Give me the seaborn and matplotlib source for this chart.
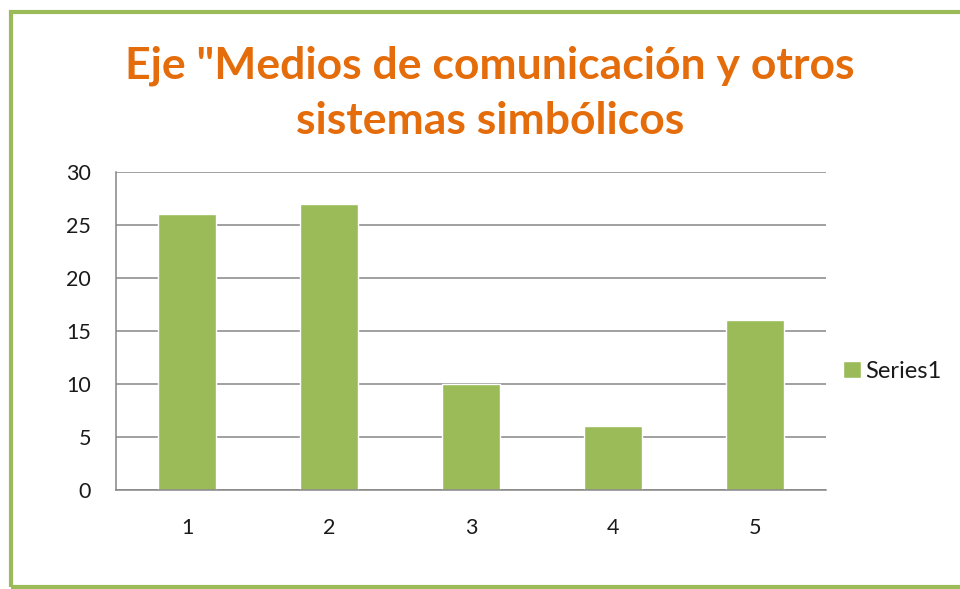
import matplotlib
matplotlib.use("Agg")
import matplotlib.pyplot as plt
import seaborn as sns
import pandas as pd
from matplotlib.patches import Rectangle

# data
categorias = ["1", "2", "3", "4", "5"]
valores = [26, 27, 10, 6, 16]
serie = "Series1"
titulo = 'Eje "Medios de comunicación y otros\nsistemas simbólicos'

df = pd.DataFrame({"cat": categorias, "val": valores})

sns.set_style("white")
plt.rcParams["font.family"] = ["Lato", "DejaVu Sans"]

verde = "#9BBB59"
naranja = "#E46C0A"
gris = "#868686"

fig = plt.figure(figsize=(9.6, 5.89), dpi=100)
ax = fig.add_axes([116 / 960, 1 - 490 / 589, 710 / 960, 318 / 589])

sns.barplot(data=df, x="cat", y="val", color=verde, width=0.41,
            saturation=1, label=serie, ax=ax)

ax.set_ylim(0, 30)
ax.set_yticks(range(0, 31, 5))
ax.set_xlim(-0.5, len(categorias) - 0.5)
ax.set_xlabel("")
ax.set_ylabel("")
ax.yaxis.grid(True, color=gris, linewidth=1.1)
ax.set_axisbelow(True)
for s in ["top", "right"]:
    ax.spines[s].set_visible(False)
for s in ["left", "bottom"]:
    ax.spines[s].set_color(gris)
    ax.spines[s].set_linewidth(1.1)
ax.tick_params(axis="both", length=0, labelsize=15.5, colors="#1a1a1a")
ax.tick_params(axis="y", pad=18)
ax.tick_params(axis="x", pad=20)

ax.legend(loc="center left", bbox_to_anchor=(843 / 960, 1 - 371 / 589),
          bbox_transform=fig.transFigure, frameon=False, fontsize=17,
          handlelength=0.75, handleheight=0.75, handletextpad=0.2,
          borderpad=0, borderaxespad=0, labelcolor="#1a1a1a")

fig.text(490 / 960, 1 - 93 / 589, titulo, ha="center", va="center",
         fontsize=32, fontweight="bold", color=naranja, linespacing=1.45)

# green frame around the chart (right side runs off the picture)
fig.patches.append(Rectangle((11 / 960, 1 - 587 / 589), 1.2, 575 / 589,
                             transform=fig.transFigure, fill=False,
                             edgecolor=verde, linewidth=3))

fig.savefig("out.png", dpi=100)
